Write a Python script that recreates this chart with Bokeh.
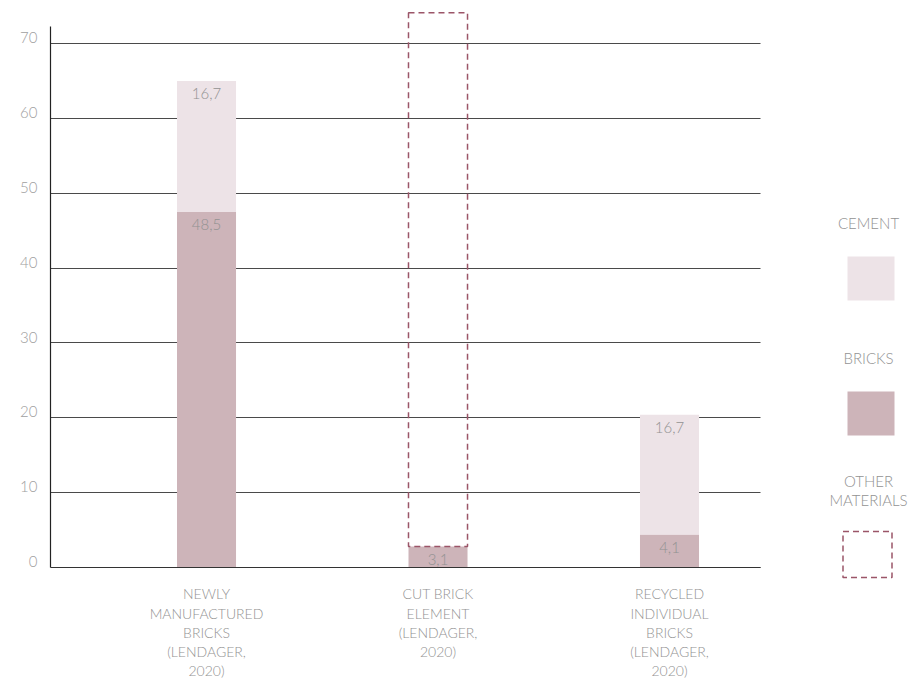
from bokeh.plotting import figure
from bokeh.models import Range1d, FixedTicker, ColumnDataSource, CDSView, BooleanFilter
from bokeh.transform import stack
from bokeh.core.properties import value
from bokeh.embed import file_html
from bokeh.resources import INLINE

# ---- data ----
categories = ["NEWLY\nMANUFACTURED\nBRICKS\n(LENDAGER,\n2020)",
              "CUT BRICK\nELEMENT\n(LENDAGER,\n2020)",
              "RECYCLED\nINDIVIDUAL\nBRICKS\n(LENDAGER,\n2020)"]
bricks = [47.5, 2.8, 4.4]
cement = [17.5, 0.0, 16.0]
other = [0.0, 71.3, 0.0]
bricks_labels = ["48,5", "3,1", "4,1"]
cement_labels = ["16,7", "", "16,7"]
y_ticks = [0, 10, 20, 30, 40, 50, 60, 70]
series_names = ["CEMENT", "BRICKS", "OTHER\nMATERIALS"]

C_CEMENT = "#ede3e7"
C_BRICKS = "#cdb4b9"
C_OTHER = "#9b5568"
TXT = "#929292"
FONT = "Lato Light, Lato"

idx = list(range(len(categories)))
src = ColumnDataSource(dict(x=idx, bricks=bricks, cement=cement, other=other,
                            bl=bricks_labels, cl=cement_labels,
                            btop=list(bricks),
                            ctop=[b + c for b, c in zip(bricks, cement)]))

X0, X1 = -0.674, 3.067      # whole frame (plot area + legend area)
XA1 = 2.393                 # right end of the chart area
p = figure(width=916, height=681, x_range=Range1d(X0, X1), y_range=Range1d(-15.23, 75.74),
           output_backend="svg", toolbar_location=None,
           min_border_left=50, min_border_right=0, min_border_top=0, min_border_bottom=0)
p.outline_line_color = None
p.background_fill_color = "white"
p.border_fill_color = "white"
# pixel-space ranges for the legend area
p.extra_x_ranges = {"px": Range1d(50, 916)}
p.extra_y_ranges = {"px": Range1d(681, 0)}

W = 0.255
p.vbar(x="x", width=W, bottom=stack(), top=stack("bricks"), source=src,
       fill_color=C_BRICKS, line_color=None)
p.vbar(x="x", width=W, bottom=stack("bricks"), top=stack("bricks", "cement"), source=src,
       fill_color=C_CEMENT, line_color=None)
view = CDSView(filter=BooleanFilter([o > 0 for o in other]))
p.vbar(x="x", width=W, bottom=stack("bricks", "cement"), top=stack("bricks", "cement", "other"),
       source=src, view=view, fill_color=None, line_color=C_OTHER, line_width=1.5,
       line_dash="6 4")

for col, lab in (("btop", "bl"), ("ctop", "cl")):
    p.text(x="x", y=col, text=lab, source=src, text_align="center", text_baseline="middle",
           y_offset=13, text_font=value(FONT), text_font_size="15px", text_color=TXT)

p.xgrid.grid_line_color = None
yg = p.ygrid[0]
yg.ticker = FixedTicker(ticks=y_ticks)
yg.grid_line_color = "#4a4a4a"
yg.grid_line_width = 1.2
yg.bounds = (1, 72)
yg.cross_bounds = (X0, XA1)

xa = p.xaxis[0]
xa.fixed_location = 0
xa.bounds = (X0, XA1)
xa.ticker = FixedTicker(ticks=idx)
xa.major_label_overrides = {i: c for i, c in zip(idx, categories)}
xa.major_tick_line_color = None
xa.minor_tick_line_color = None
xa.axis_line_color = "#333333"
xa.axis_line_width = 1.2
xa.major_label_standoff = 12
xa.major_label_text_font = FONT
xa.major_label_text_font_size = "14px"
xa.major_label_text_color = TXT
xa.major_label_text_line_height = 1.13

ya = p.yaxis[0]
ya.ticker = FixedTicker(ticks=y_ticks)
ya.bounds = (0, 72.3)
ya.major_label_overrides = {t: f"{t}\n" for t in y_ticks}
ya.major_tick_line_color = None
ya.minor_tick_line_color = None
ya.axis_line_color = "#222222"
ya.axis_line_width = 1.2
ya.major_label_standoff = 7
ya.major_label_text_font = FONT
ya.major_label_text_font_size = "15px"
ya.major_label_text_color = "#a0a0a0"
ya.major_label_text_line_height = 0.7

# ---- legend (pixel-space ranges) ----
p.text(x=[868, 868, 868], y=[222, 357, 490], text=series_names, text_align="center",
       text_baseline="middle", text_font=value(FONT), text_font_size="15px",
       text_color=TXT, text_line_height=1.05, x_range_name="px", y_range_name="px")
p.rect(x=[870.5, 870.5], y=[278, 413], width=47, height=44, fill_color=[C_CEMENT, C_BRICKS],
       line_color=None, x_range_name="px", y_range_name="px")
p.rect(x=[867], y=[554], width=49, height=46, fill_color=None, line_color=C_OTHER,
       line_width=1.5, line_dash="6 4", x_range_name="px", y_range_name="px")

open("out.html", "w").write(file_html(p, INLINE))
